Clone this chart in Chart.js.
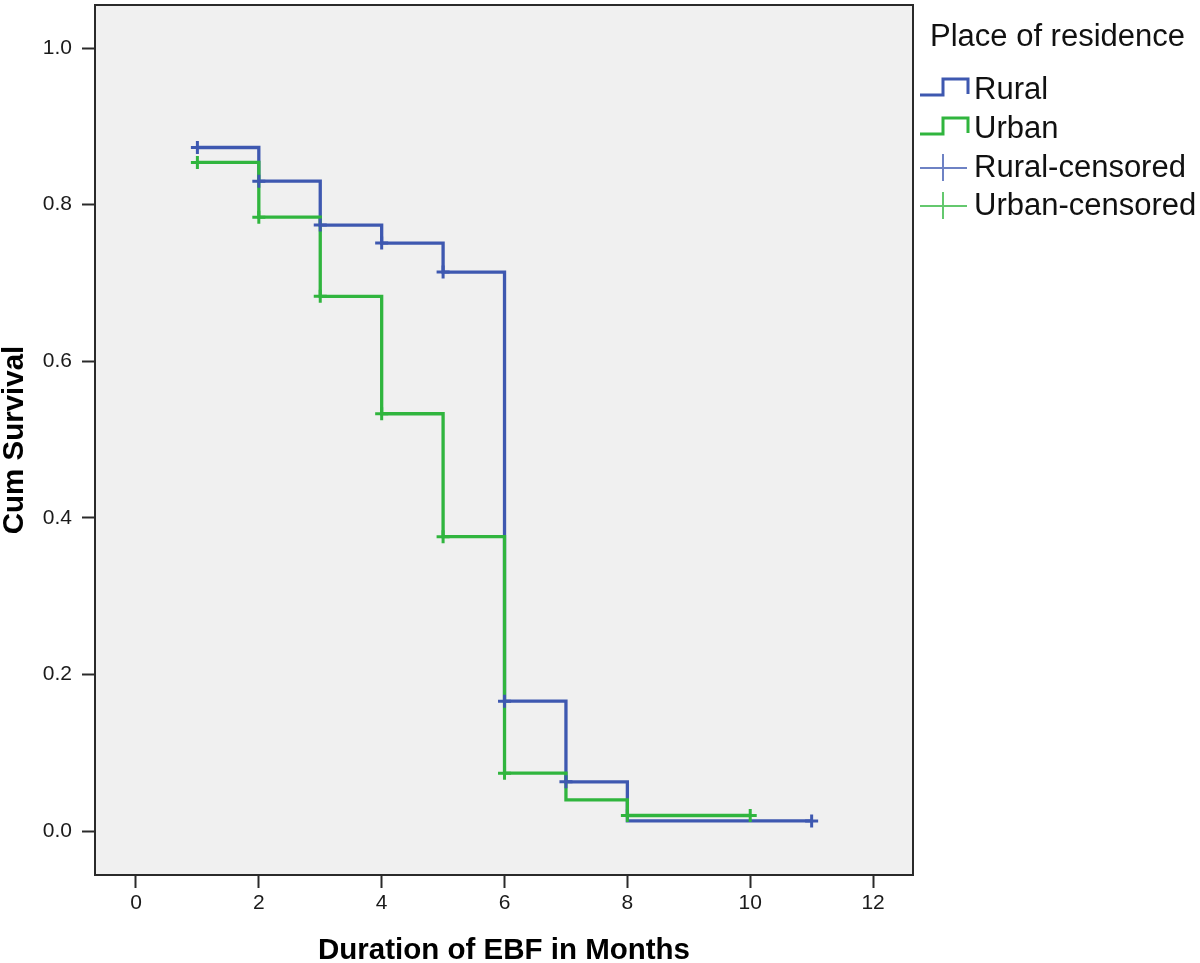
<!DOCTYPE html>
<html>
<head>
<meta charset="utf-8">
<script src="https://cdn.jsdelivr.net/npm/chart.js@4"></script>
<style>
  html, body { margin: 0; padding: 0; background: #fff; }
  canvas { display: block; }
</style>
</head>
<body>
<canvas id="kmChart" width="1200" height="963"></canvas>
<script>
// survival steps
const TIMES_RURAL = [1, 2, 3, 4, 5, 6, 7, 8, 11];
const SURV_RURAL = [0.873, 0.830, 0.774, 0.751, 0.714, 0.166, 0.063, 0.013, 0.013];
const TIMES_URBAN = [1, 2, 3, 4, 5, 6, 7, 8, 10];
const SURV_URBAN = [0.854, 0.784, 0.683, 0.533, 0.376, 0.074, 0.040, 0.020, 0.020];

// times with a censored mark
const CENSORED_RURAL = [1, 2, 3, 4, 5, 6, 7, 11];
const CENSORED_URBAN = [1, 2, 3, 4, 5, 6, 8, 10];

const X_TICKS = [0, 2, 4, 6, 8, 10, 12];
const Y_TICKS = [0, 0.2, 0.4, 0.6, 0.8, 1.0];

const BLUE = '#3e58b0';
const GREEN = '#30b53e';
const FONT = '"Liberation Sans", Arial, sans-serif';

// value of the step curve at time t
function survAt(times, surv, t) {
    let v = surv[0];
    times.forEach((tt, i) => { if (tt <= t) v = surv[i]; });
    return v;
}

function toPoints(times, surv) {
    return times.map((t, i) => ({ x: t, y: surv[i] }));
}

function censoredPoints(censTimes, times, surv) {
    return censTimes.map(t => ({ x: t, y: survAt(times, surv, t) }));
}

// grey plot background and black frame
const framePlugin = {
    id: 'frame',
    beforeDatasetsDraw(chart) {
        const { ctx, chartArea: a } = chart;
        ctx.save();
        ctx.fillStyle = '#f0f0f0';
        ctx.fillRect(a.left, a.top, a.right - a.left, a.bottom - a.top);
        ctx.restore();
    },
    afterDraw(chart) {
        const { ctx, chartArea: a } = chart;
        ctx.save();
        ctx.strokeStyle = '#2a2a2a';
        ctx.lineWidth = 2;
        ctx.strokeRect(a.left, a.top, a.right - a.left, a.bottom - a.top);
        ctx.restore();
    }
};

// SPSS style legend on the right
const legendPlugin = {
    id: 'spssLegend',
    afterDraw(chart) {
        const ctx = chart.ctx;
        ctx.save();
        ctx.fillStyle = '#111';
        ctx.textBaseline = 'middle';
        ctx.textAlign = 'left';
        ctx.font = '31px ' + FONT;
        ctx.fillText('Place of residence', 930, 37);

        const items = [
            { label: 'Rural', color: BLUE, kind: 'step', y: 90 },
            { label: 'Urban', color: GREEN, kind: 'step', y: 129 },
            { label: 'Rural-censored', color: BLUE, kind: 'cross', y: 168 },
            { label: 'Urban-censored', color: GREEN, kind: 'cross', y: 206 }
        ];
        items.forEach(it => {
            ctx.strokeStyle = it.color;
            if (it.kind === 'step') {
                ctx.lineWidth = 3;
                ctx.beginPath();
                ctx.moveTo(920, it.y + 5);
                ctx.lineTo(943, it.y + 5);
                ctx.lineTo(943, it.y - 11);
                ctx.lineTo(968, it.y - 11);
                ctx.lineTo(968, it.y + 4);
                ctx.stroke();
            } else {
                ctx.globalAlpha = 0.75;
                ctx.lineWidth = 2;
                ctx.beginPath();
                ctx.moveTo(920, it.y);
                ctx.lineTo(967, it.y);
                ctx.moveTo(943, it.y - 14);
                ctx.lineTo(943, it.y + 13);
                ctx.stroke();
                ctx.globalAlpha = 1;
            }
            ctx.fillStyle = '#111';
            ctx.fillText(it.label, 974, it.y);
        });
        ctx.restore();
    }
};

function stepLine(label, times, surv, color) {
    return {
        type: 'line',
        label: label,
        data: toPoints(times, surv),
        borderColor: color,
        borderWidth: 3.3,
        stepped: 'before',
        pointRadius: 0,
        fill: false
    };
}

function censorMarks(label, censTimes, times, surv, color) {
    return {
        type: 'scatter',
        label: label,
        data: censoredPoints(censTimes, times, surv),
        borderColor: color,
        backgroundColor: color,
        pointStyle: 'cross',
        pointRadius: 6.5,
        borderWidth: 3,
        showLine: false
    };
}

const tickFont = { family: FONT, size: 21 };
const titleFont = { family: FONT, size: 29.5, weight: 'bold', lineHeight: 1 };

new Chart(document.getElementById('kmChart').getContext('2d'), {
    data: {
        datasets: [
            censorMarks('Urban-censored', CENSORED_URBAN, TIMES_URBAN, SURV_URBAN, GREEN),
            censorMarks('Rural-censored', CENSORED_RURAL, TIMES_RURAL, SURV_RURAL, BLUE),
            stepLine('Urban', TIMES_URBAN, SURV_URBAN, GREEN),
            stepLine('Rural', TIMES_RURAL, SURV_RURAL, BLUE)
        ]
    },
    options: {
        responsive: false,
        animation: false,
        layout: { autoPadding: false, padding: { top: 5, right: 287, left: 0, bottom: 0 } },
        plugins: {
            legend: { display: false },
            tooltip: { enabled: false }
        },
        scales: {
            x: {
                type: 'linear',
                min: -0.667,
                max: 12.65,
                afterFit(scale) {
                    scale.height = 88;
                    scale.paddingLeft = 0;
                    scale.paddingRight = 0;
                },
                afterBuildTicks(scale) { scale.ticks = X_TICKS.map(v => ({ value: v })); },
                border: { display: false },
                grid: {
                    drawOnChartArea: false,
                    drawTicks: true,
                    tickLength: 13,
                    tickWidth: 2,
                    tickColor: '#2a2a2a'
                },
                ticks: {
                    font: tickFont,
                    color: '#1a1a1a',
                    padding: 3,
                    maxRotation: 0,
                    callback: v => String(v)
                },
                title: {
                    display: true,
                    text: 'Duration of EBF in Months',
                    font: titleFont,
                    color: '#000',
                    padding: { top: 0, bottom: -3 }
                }
            },
            y: {
                type: 'linear',
                min: -0.056,
                max: 1.055,
                afterFit(scale) {
                    scale.width = 95;
                    scale.paddingTop = 0;
                    scale.paddingBottom = 0;
                },
                afterBuildTicks(scale) { scale.ticks = Y_TICKS.map(v => ({ value: v })); },
                border: { display: false },
                grid: {
                    drawOnChartArea: false,
                    drawTicks: true,
                    tickLength: 13,
                    tickWidth: 2,
                    tickColor: '#2a2a2a'
                },
                ticks: {
                    font: tickFont,
                    color: '#1a1a1a',
                    padding: 10,
                    callback: v => v.toFixed(1)
                },
                title: {
                    display: true,
                    text: 'Cum Survival',
                    font: titleFont,
                    color: '#000',
                    padding: { top: 0, bottom: 0 }
                }
            }
        }
    },
    plugins: [framePlugin, legendPlugin]
});
</script>
</body>
</html>
